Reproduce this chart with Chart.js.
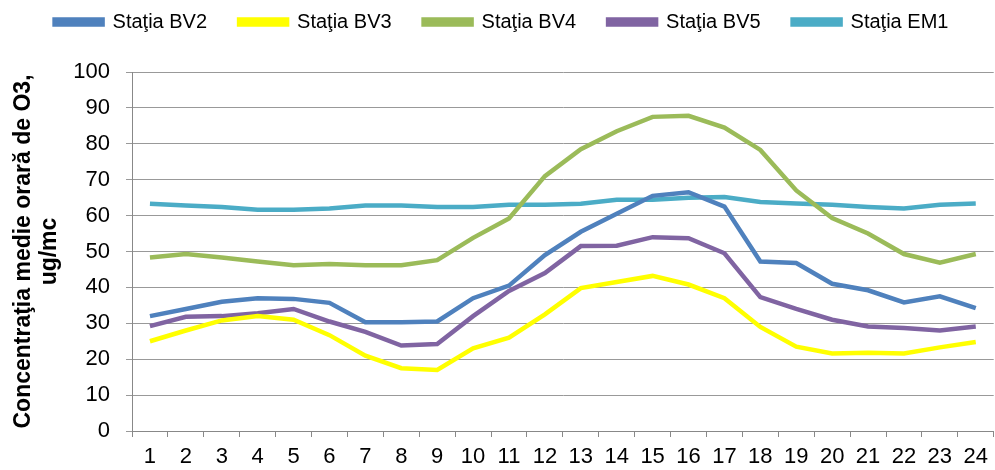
<!DOCTYPE html>
<html>
<head>
<meta charset="utf-8">
<script src="https://cdn.jsdelivr.net/npm/chart.js@4.4.0/dist/chart.umd.min.js"></script>
<style>
  html, body { margin: 0; padding: 0; background: #fff; }
  #wrap { width: 995px; height: 470px; }
</style>
</head>
<body>
<div id="wrap"><canvas id="chart"></canvas></div>
<script>
// ore 1..24
const hours = ['1','2','3','4','5','6','7','8','9','10','11','12','13','14','15','16','17','18','19','20','21','22','23','24'];

const bv2 = [32, 34, 36, 37, 36.8, 35.7, 30.3, 30.3, 30.5, 37, 40.5, 49, 55.5, 60.5, 65.5, 66.5, 62.5, 47.2, 46.8, 41, 39.2, 35.8, 37.5, 34.2];
const bv3 = [25, 28, 30.8, 32, 31, 26.7, 21, 17.5, 17, 23, 26, 32.5, 39.8, 41.5, 43.2, 40.8, 37, 29, 23.5, 21.6, 21.8, 21.6, 23.3, 24.8];
const bv4 = [48.3, 49.3, 48.3, 47.2, 46.2, 46.5, 46.2, 46.2, 47.6, 53.8, 59.2, 71, 78.5, 83.5, 87.5, 87.8, 84.5, 78.3, 67, 59.3, 55, 49.3, 46.9, 49.3];
const bv5 = [29.2, 31.8, 32, 32.8, 34, 30.5, 27.6, 23.8, 24.2, 32, 39, 44, 51.5, 51.6, 54, 53.7, 49.5, 37.3, 34, 31, 29.1, 28.7, 28, 29.1];
const em1 = [63.3, 62.8, 62.4, 61.6, 61.6, 62, 62.8, 62.8, 62.4, 62.4, 63, 63, 63.3, 64.4, 64.4, 65, 65.2, 63.8, 63.4, 63, 62.4, 62, 63, 63.4];

const seriesNames = ['Staţia BV2', 'Staţia BV3', 'Staţia BV4', 'Staţia BV5', 'Staţia EM1'];
const colors = ['#4F81BD', '#FFFF00', '#9BBB59', '#8064A2', '#4BACC6'];

const font = "'Liberation Sans', Arial, sans-serif";

const mkSet = (i, data) => ({
  label: seriesNames[i],
  data: data,
  borderColor: colors[i],
  backgroundColor: colors[i],
  borderWidth: 4.5,
  pointRadius: 0,
  tension: 0,
  fill: false
});

// legenda: spatiu mare intre elemente, dar inaltime fixa
const legendHeight = {
  id: 'legendHeight',
  beforeInit(chart) {
    const lg = chart.legend;
    if (!lg) return;
    const fit = lg.fit;
    lg.fit = function () {
      fit.call(this);
      this.height = 92;
    };
  }
};

new Chart(document.getElementById('chart'), {
  type: 'line',
  data: {
    labels: hours,
    datasets: [mkSet(0, bv2), mkSet(1, bv3), mkSet(2, bv4), mkSet(3, bv5), mkSet(4, em1)]
  },
  plugins: [legendHeight],
  options: {
    responsive: true,
    maintainAspectRatio: false,
    animation: false,
    layout: { padding: { left: 8, right: 0, top: -20, bottom: 0 } },
    plugins: {
      tooltip: { enabled: false },
      legend: {
        position: 'top',
        labels: {
          boxWidth: 48,
          boxHeight: 5,
          padding: 32,
          color: '#000',
          font: { family: font, size: 20 }
        }
      }
    },
    scales: {
      x: {
        offset: true,
        afterFit: (s) => { s.height = 39; },
        grid: { offset: true, drawOnChartArea: false, drawTicks: true, tickLength: 6, color: '#888' },
        border: { color: '#888', width: 1 },
        ticks: { color: '#000', font: { family: font, size: 22 }, maxRotation: 0, autoSkip: false, padding: 7 }
      },
      y: {
        min: 0,
        max: 100,
        afterFit: (s) => { s.width = 124; },
        ticks: { stepSize: 10, color: '#000', font: { family: font, size: 22 }, padding: 16 },
        grid: { color: '#999', tickLength: 6, drawTicks: true },
        border: { color: '#888', width: 1 },
        title: {
          display: true,
          text: ['Concentraţia medie orară de O3,', 'ug/mc'],
          color: '#000',
          font: { family: font, size: 23, weight: 'bold', lineHeight: 1.15 },
          padding: { top: 2, bottom: 0 }
        }
      }
    }
  }
});
</script>
</body>
</html>
